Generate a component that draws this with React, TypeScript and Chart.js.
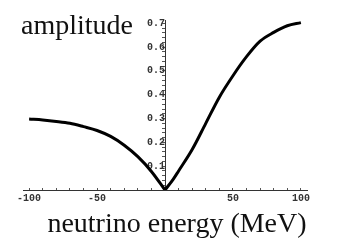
import React, { useEffect, useRef } from "react";
import { Chart, registerables } from "chart.js";

Chart.register(...registerables);

const energyLeft = [-100, -90, -80, -70, -60, -50, -40, -30, -20, -10, 0];
const amplitudeLeft = [0.298, 0.294, 0.288, 0.28, 0.266, 0.25, 0.225, 0.188, 0.14, 0.078, 0];
const energyRight = [0, 6, 10, 20, 30, 40, 50, 60, 70, 80, 90, 100];
const amplitudeRight = [0, 0.045, 0.08, 0.17, 0.28, 0.39, 0.48, 0.56, 0.625, 0.662, 0.69, 0.703];
const xTickLabels = [-100, -50, 50, 100];
const yTickLabels = [0.1, 0.2, 0.3, 0.4, 0.5, 0.6, 0.7];
const yTitle = "amplitude";
const xTitle = "neutrino energy (MeV)";

const titlesPlugin = {
  id: "titles",
  afterDraw(chart: any) {
    const ctx = chart.ctx;
    const area = chart.chartArea;
    ctx.save();
    ctx.fillStyle = "#111";
    ctx.font = '28px "Liberation Serif"';
    ctx.textBaseline = "alphabetic";
    ctx.textAlign = "left";
    ctx.fillText(yTitle, area.left - 2, area.top + 14);
    ctx.textAlign = "center";
    ctx.fillText(xTitle, (area.left + area.right) / 2 + 12, area.bottom + 42);
    ctx.restore();
  },
};

const lineStyle = {
  showLine: true,
  borderColor: "#000",
  borderWidth: 3,
  pointRadius: 0,
  cubicInterpolationMode: "monotone",
};

export default function App() {
  const ref = useRef<HTMLCanvasElement>(null);
  useEffect(() => {
    document.body.style.margin = "0";
    const tickFont = { family: '"Liberation Mono"', size: 10, weight: "bold" };
    const chart = new Chart(ref.current!, {
      type: "scatter",
      data: {
        datasets: [
          { ...lineStyle, data: energyLeft.map((e, i) => ({ x: e, y: amplitudeLeft[i] })) } as any,
          { ...lineStyle, data: energyRight.map((e, i) => ({ x: e, y: amplitudeRight[i] })) } as any,
        ],
      },
      options: {
        animation: false,
        responsive: false,
        layout: { padding: { left: 23, right: 47, top: 20, bottom: 56 } },
        plugins: { legend: { display: false }, tooltip: { enabled: false } },
        scales: {
          x: {
            type: "linear",
            position: { y: 0 } as any,
            min: -104.5,
            max: 104.5,
            border: { display: true, color: "#333", width: 1 },
            grid: { drawOnChartArea: false, drawTicks: true, tickLength: -3, color: "#555" },
            ticks: {
              stepSize: 10,
              includeBounds: false,
              autoSkip: false,
              maxRotation: 0,
              padding: 5,
              color: "#333",
              font: tickFont as any,
              callback: (v: any) => (xTickLabels.includes(Math.round(v)) ? String(Math.round(v)) : ""),
            },
          },
          y: {
            type: "linear",
            position: { x: 0 } as any,
            min: 0,
            max: 0.714,
            border: { display: true, color: "#333", width: 1 },
            grid: { drawOnChartArea: false, drawTicks: true, tickLength: 3, color: "#555" },
            ticks: {
              stepSize: 0.02,
              includeBounds: false,
              autoSkip: false,
              padding: 3,
              color: "#333",
              font: tickFont as any,
              callback: (v: any) => {
                const r = Math.round(Number(v) * 10) / 10;
                return Math.abs(Number(v) - r) < 1e-6 && yTickLabels.includes(r) ? r.toFixed(1) : "";
              },
            },
          },
        },
      },
      plugins: [titlesPlugin],
    });
    return () => chart.destroy();
  }, []);
  return (
    <div style={{ position: "fixed", left: 0, top: 0, width: 354, height: 246, background: "#fff" }}>
      <canvas ref={ref} width={354} height={246} />
    </div>
  );
}
